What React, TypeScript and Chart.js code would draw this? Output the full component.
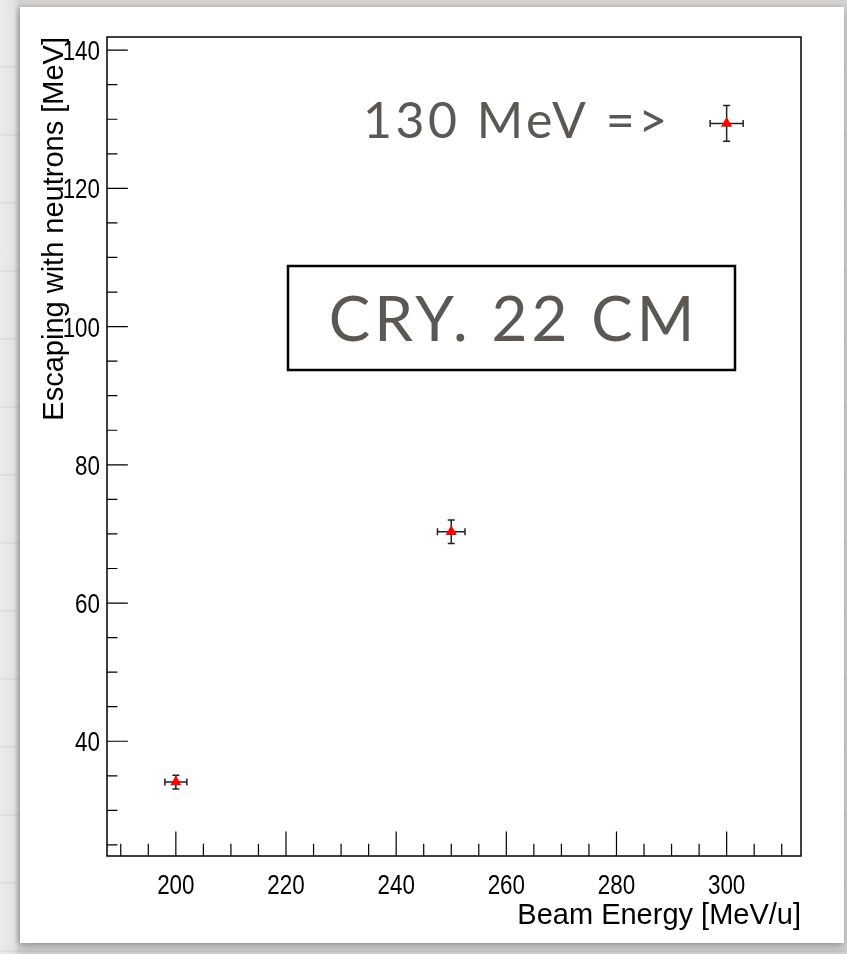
import React, { useEffect, useRef } from 'react';
import { Chart, registerables } from 'chart.js';

Chart.register(...registerables);

// Measured points: beam energy (MeV/u) vs. energy escaping with neutrons (MeV)
const beamEnergy = [200, 250, 300];
const escapingEnergy = [34.1, 70.3, 129.4];
const beamEnergyErr = [2, 2.5, 3];
const escapingEnergyErr = [1.0, 1.7, 2.6];

// Axis ranges and tick labels
const xRange = [187.5, 313.5];
const yRange = [23.4, 141.9];
const xMajorTicks = [200, 220, 240, 260, 280, 300];
const yMajorTicks = [40, 60, 80, 100, 120, 140];
const minorStep = 5;

const xTitle = 'Beam Energy [MeV/u]';
const yTitle = 'Escaping with neutrons [MeV]';
const arrowNote = '130 MeV =>';
const boxNote = 'CRY. 22 CM';

const W = 847;
const H = 954;

const LABEL_FONT = '28px "Liberation Sans", Arial, sans-serif';
const TITLE_FONT = '29px "Liberation Sans", Arial, sans-serif';
const NOTE_COLOR = '#5b5853';

function drawCondensed(
  ctx: CanvasRenderingContext2D,
  text: string,
  x: number,
  y: number,
  align: CanvasTextAlign,
  sx: number
) {
  ctx.save();
  ctx.translate(x, y);
  ctx.scale(sx, 1);
  ctx.textAlign = align;
  ctx.textBaseline = 'alphabetic';
  ctx.fillText(text, 0, 0);
  ctx.restore();
}

// Error bars with end caps, drawn under the markers
const errorBarPlugin = {
  id: 'errorBars',
  beforeDatasetsDraw(chart: any) {
    const { ctx } = chart;
    const xs = chart.scales.x;
    const ys = chart.scales.y;
    const cap = 3.5;
    ctx.save();
    ctx.strokeStyle = '#222';
    ctx.lineWidth = 1.5;
    beamEnergy.forEach((e, i) => {
      const px = xs.getPixelForValue(e);
      const py = ys.getPixelForValue(escapingEnergy[i]);
      const x0 = xs.getPixelForValue(e - beamEnergyErr[i]);
      const x1 = xs.getPixelForValue(e + beamEnergyErr[i]);
      const y0 = ys.getPixelForValue(escapingEnergy[i] - escapingEnergyErr[i]);
      const y1 = ys.getPixelForValue(escapingEnergy[i] + escapingEnergyErr[i]);
      ctx.beginPath();
      ctx.moveTo(x0, py);
      ctx.lineTo(x1, py);
      ctx.moveTo(x0, py - cap);
      ctx.lineTo(x0, py + cap);
      ctx.moveTo(x1, py - cap);
      ctx.lineTo(x1, py + cap);
      ctx.moveTo(px, y0);
      ctx.lineTo(px, y1);
      ctx.moveTo(px - cap, y0);
      ctx.lineTo(px + cap, y0);
      ctx.moveTo(px - cap, y1);
      ctx.lineTo(px + cap, y1);
      ctx.stroke();
    });
    ctx.restore();
  },
};

// Frame, major/minor ticks, labels, titles and slide notes
const framePlugin = {
  id: 'frame',
  afterDraw(chart: any) {
    const { ctx, chartArea } = chart;
    const xs = chart.scales.x;
    const ys = chart.scales.y;
    const { left, right, top, bottom } = chartArea;
    const w = right - left;
    const h = bottom - top;

    ctx.save();
    ctx.strokeStyle = '#000';
    ctx.lineWidth = 1.5;
    ctx.strokeRect(left, top, w, h);

    // y ticks
    const yMajorLen = 0.03 * w;
    ctx.lineWidth = 1.2;
    ctx.beginPath();
    for (let v = Math.ceil(yRange[0] / minorStep) * minorStep; v <= yRange[1]; v += minorStep) {
      const py = ys.getPixelForValue(v);
      const major = yMajorTicks.includes(v);
      ctx.moveTo(left, py);
      ctx.lineTo(left + (major ? yMajorLen : yMajorLen / 2), py);
    }
    // x ticks
    const xMajorLen = 0.03 * h;
    for (let v = Math.ceil(xRange[0] / minorStep) * minorStep; v <= xRange[1]; v += minorStep) {
      const px = xs.getPixelForValue(v);
      const major = xMajorTicks.includes(v);
      ctx.moveTo(px, bottom);
      ctx.lineTo(px, bottom - (major ? xMajorLen : xMajorLen / 2));
    }
    ctx.stroke();

    // tick labels
    ctx.fillStyle = '#000';
    ctx.font = LABEL_FONT;
    yMajorTicks.forEach((v) => {
      drawCondensed(ctx, String(v), left - 7, ys.getPixelForValue(v) + 10, 'right', 0.8);
    });
    xMajorTicks.forEach((v) => {
      drawCondensed(ctx, String(v), xs.getPixelForValue(v), bottom + 38, 'center', 0.8);
    });

    // axis titles
    ctx.font = TITLE_FONT;
    ctx.textAlign = 'right';
    ctx.textBaseline = 'alphabetic';
    ctx.fillText(xTitle, right, bottom + 68);
    ctx.save();
    ctx.translate(63, top);
    ctx.rotate(-Math.PI / 2);
    ctx.textAlign = 'right';
    ctx.fillText(yTitle, 0, 0);
    ctx.restore();

    // slide notes
    ctx.fillStyle = NOTE_COLOR;
    ctx.font = '50px Lato, "Noto Sans", sans-serif';
    (ctx as any).letterSpacing = '3.5px';
    ctx.textAlign = 'left';
    ctx.fillText(arrowNote, 363, 138);

    ctx.strokeStyle = '#000';
    ctx.lineWidth = 2.5;
    ctx.strokeRect(288, 266, 447, 104);
    ctx.font = '62px Lato, "Noto Sans", sans-serif';
    (ctx as any).letterSpacing = '4px';
    ctx.textAlign = 'center';
    ctx.fillText(boxNote, 511.5 + 2, 341);
    (ctx as any).letterSpacing = '0px';
    ctx.restore();
  },
};

export default function App() {
  const canvasRef = useRef<HTMLCanvasElement | null>(null);

  useEffect(() => {
    const canvas = canvasRef.current;
    if (!canvas) return;
    const chart = new Chart(canvas, {
      type: 'scatter',
      data: {
        datasets: [
          {
            label: 'escaping',
            data: beamEnergy.map((x, i) => ({ x, y: escapingEnergy[i] })),
            pointStyle: 'triangle',
            pointRadius: 6.5,
            pointHoverRadius: 6.5,
            backgroundColor: '#ff0000',
            borderWidth: 0,
          },
        ],
      },
      options: {
        responsive: false,
        animation: false,
        devicePixelRatio: 1,
        layout: { padding: { top: 37, right: 46, left: 0, bottom: 0 } },
        plugins: {
          legend: { display: false },
          tooltip: { enabled: false },
        },
        scales: {
          x: {
            type: 'linear',
            min: xRange[0],
            max: xRange[1],
            grid: { display: false },
            border: { display: false },
            ticks: { display: false },
            afterFit: (s: any) => {
              s.height = 98;
            },
          },
          y: {
            type: 'linear',
            min: yRange[0],
            max: yRange[1],
            grid: { display: false },
            border: { display: false },
            ticks: { display: false },
            afterFit: (s: any) => {
              s.width = 107;
            },
          },
        },
      },
      plugins: [errorBarPlugin, framePlugin],
    });
    return () => chart.destroy();
  }, []);

  return (
    <div
      style={{
        position: 'fixed',
        left: 0,
        top: 0,
        width: W,
        height: H,
        overflow: 'hidden',
        background:
          'repeating-linear-gradient(180deg, rgba(0,0,0,0) 0px, rgba(0,0,0,0) 66px, rgba(0,0,0,0.045) 66px, rgba(0,0,0,0.045) 68px), linear-gradient(90deg, #ecebea 0px, #e4e3e1 14px, #d2d1cf 19px)',
      }}
    >
      <div
        style={{
          position: 'absolute',
          left: 20,
          top: 7,
          width: 824,
          height: 936,
          background: '#ffffff',
          boxShadow: '0 4px 8px rgba(0,0,0,0.22), -2px 0 4px rgba(0,0,0,0.15)',
        }}
      />
      <canvas
        ref={canvasRef}
        width={W}
        height={H}
        style={{ position: 'absolute', left: 0, top: 0, width: W, height: H }}
      />
    </div>
  );
}
